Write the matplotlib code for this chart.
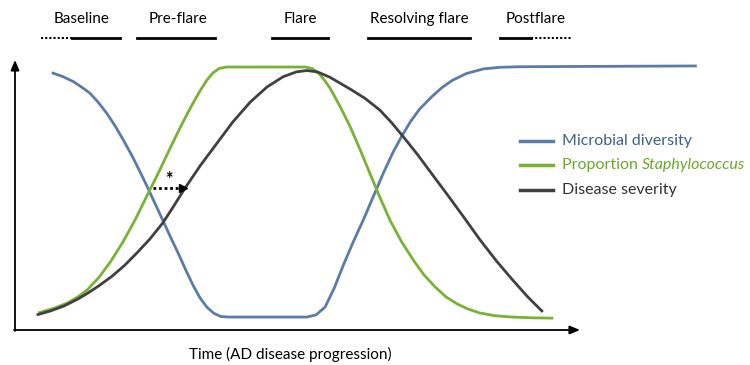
import matplotlib
matplotlib.use("Agg")
import matplotlib.pyplot as plt

plt.rcParams['font.family'] = ['Lato', 'DejaVu Sans']

# time axis 0..100, level 0..100
diversity_t = [5.24, 6.8, 8.33, 9.5, 10.71, 11.9, 13.1, 14.3, 15.47, 16.7, 17.86, 19.05, 20.1,
               21.14, 22.2, 23.3, 24.4, 25.43, 26.4, 27.4, 28.4, 29.4, 30.5,
               41.7, 43, 44.3, 45.6, 46.9, 48.3, 49.8, 51.2, 52.6, 54, 55.3, 56.5, 57.8,
               59.5, 61, 62.5, 64.5, 66.9, 69.3, 72, 80, 97.4]
diversity = [95.3, 93.9, 92.0, 90.0, 87.7, 84.3, 80.3, 75.6, 70.4, 64.6, 58.6, 52.2, 46.3,
             40.5, 34.5, 28.5, 22.2, 16.6, 12, 8.5, 6.2, 5.0, 4.8,
             4.8, 5.6, 8.5, 15.5, 24, 32.5, 41, 49.5, 58, 65.8, 72, 77.2, 81.8,
             86.3, 89.8, 92.5, 95.0, 96.7, 97.3, 97.5, 97.6, 97.8]

staph_t = [3.3, 5.5, 7.5, 9, 10.3, 12, 13.7, 15.4, 17.2, 19, 20.6, 22.1, 23.6, 25, 26.3, 27.4,
           28.3, 29.2, 30.2, 41.5, 42.5, 43.5, 44.3, 45, 46.4, 47.9, 49.3, 50.7, 52.1, 53.6,
           55.2, 56.9, 58.4, 60, 61.6, 63.2, 64.8, 66.4, 68.5, 71, 74, 76.9]
staph = [6.3, 8, 10, 12.3, 14.8, 19.5, 25.5, 32.5, 41, 50.5, 58.8, 67, 75, 82, 88, 92.5,
         95.3, 96.9, 97.4, 97.4, 96.8, 94.8, 92.2, 89.6, 83, 75.2, 66.8, 58, 49.3, 40.5,
         32.8, 25.9, 20.5, 16, 12.2, 9.6, 7.7, 6.3, 5.3, 4.8, 4.5, 4.4]

severity_t = [3.1, 5, 7, 9, 10.3, 12, 13.8, 15.6, 17.4, 19.3, 21.1, 22.7, 24.3, 26.5, 28.8,
              31.1, 33.6, 36, 38.3, 40.2, 41.7, 43.2, 45, 47.9, 50, 52.1, 53.8, 55.4, 57.5,
              59.5, 61.6, 64, 66.4, 68.8, 71.1, 73.2, 75.4]
severity = [5.6, 7, 8.9, 11.5, 13.5, 16.4, 19.8, 23.8, 28.5, 33.8, 39.6, 46, 52.6, 61, 69,
            77, 84.4, 90, 93.8, 95.6, 96.1, 95.6, 93.6, 89.2, 85.8, 81.5, 76.8, 71.8, 65,
            58, 50.7, 42.2, 33.5, 25.5, 18.5, 12.4, 6.7]

phases = ["Baseline", "Pre-flare", "Flare", "Resolving flare", "Postflare"]
legend_labels = ["Microbial diversity", "Proportion ", "Disease severity"]

blue = "#5a7ca6"
green = "#79b234"
dark = "#404040"

fig = plt.figure(figsize=(7.5, 3.65), dpi=100)

# main axes: left spine at px 15, bottom at px 330, 7 px per time unit, 2.7 px per level unit
ax = fig.add_axes([15 / 750, 35 / 365, 700 / 750, 270 / 365])
ax.set_xlim(0, 100)
ax.set_ylim(0, 100)
ax.axis('off')

ax.plot(diversity_t, diversity, color=blue, lw=2, solid_capstyle='butt', clip_on=False)
ax.plot(staph_t, staph, color=green, lw=2, solid_capstyle='butt', clip_on=False)
ax.plot(severity_t, severity, color=dark, lw=2, solid_capstyle='butt', clip_on=False)

# overlay in pixel space for the decorations
ov = fig.add_axes([0, 0, 1, 1])
ov.set_xlim(0, 750)
ov.set_ylim(365, 0)
ov.axis('off')
ov.patch.set_alpha(0)

# axis arrows
arrow_kw = dict(arrowstyle='-|>,head_length=0.6,head_width=0.25', color='black', lw=1.3,
                shrinkA=0, shrinkB=0)
ov.annotate("", xy=(15, 60), xytext=(15, 331), arrowprops=arrow_kw)
ov.annotate("", xy=(580, 330), xytext=(14, 330), arrowprops=arrow_kw)
ov.text(290, 354, "Time (AD disease progression)", ha='center', va='center', fontsize=11)

# phase headers
header_x = [82, 178, 300, 419, 536]
for name, x in zip(phases, header_x):
    ov.text(x, 19, name, ha='center', va='center', fontsize=11)
ov.plot([41, 72], [38, 38], color='black', lw=1.5, ls=(0, (1, 1)))
ov.plot([72, 120], [38, 38], color='black', lw=2)
ov.plot([137, 215], [38, 38], color='black', lw=2)
ov.plot([272, 328], [38, 38], color='black', lw=2)
ov.plot([368, 470], [38, 38], color='black', lw=2)
ov.plot([500, 531], [38, 38], color='black', lw=2)
ov.plot([531, 572], [38, 38], color='black', lw=1.5, ls=(0, (1, 1)))

# asterisk and dotted arrow
ov.text(169, 179, "*", ha='center', va='center', fontsize=13, fontweight='bold')
ov.plot([153, 180], [188, 188], color='black', lw=2, ls=(0, (1, 1)))
ov.plot([183], [188], marker='>', color='black', markersize=6)

# legend
leg_y = [141, 165, 190]
leg_colors = [blue, green, dark]
text_colors = ["#3e5f8c", "#6aa82a", "#333333"]
for y, lc, tc, lab in zip(leg_y, leg_colors, text_colors, legend_labels):
    ov.plot([520, 553], [y, y], color=lc, lw=2.5)
    t = ov.text(562, y, lab, ha='left', va='center', fontsize=11.5, color=tc)
    if lab.startswith("Proportion"):
        ov.annotate("Staphylococcus", xy=(1, 0.5), xycoords=t, ha='left', va='center',
                    fontsize=11.5, color=tc, style='italic')

fig.savefig("out.png", dpi=100)
